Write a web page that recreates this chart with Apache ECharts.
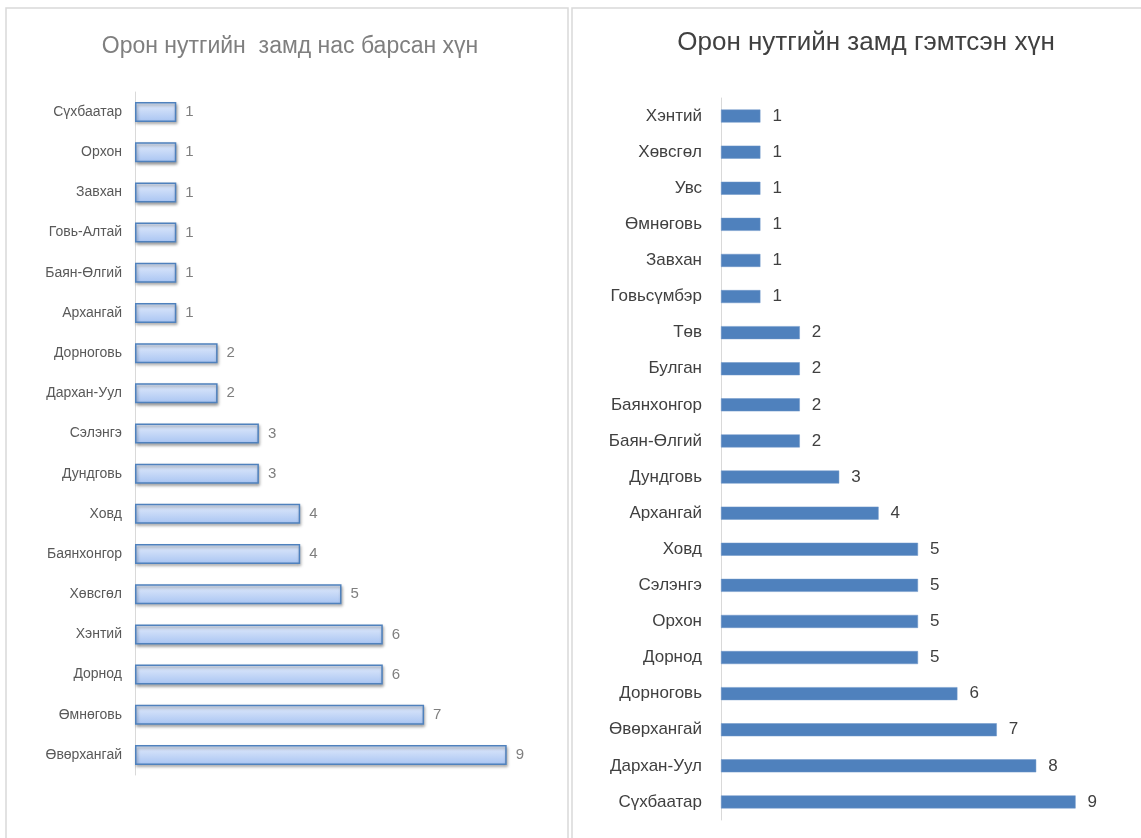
<!DOCTYPE html>
<html>
<head>
<meta charset="utf-8">
<script src="https://cdn.jsdelivr.net/npm/echarts@6/dist/echarts.min.js"></script>
<style>html,body{margin:0;padding:0;background:#fff;}#c{width:1141px;height:838px;}</style>
</head>
<body>
<div id="c"></div>
<script>
const leftTitle = 'Орон нутгийн  замд нас барсан хүн';
const rightTitle = 'Орон нутгийн замд гэмтсэн хүн';
const leftCategories = ['Сүхбаатар','Орхон','Завхан','Говь-Алтай','Баян-Өлгий','Архангай','Дорноговь','Дархан-Уул','Сэлэнгэ','Дундговь','Ховд','Баянхонгор','Хөвсгөл','Хэнтий','Дорнод','Өмнөговь','Өвөрхангай'];
const leftValues = [1,1,1,1,1,1,2,2,3,3,4,4,5,6,6,7,9];
const rightCategories = ['Хэнтий','Хөвсгөл','Увс','Өмнөговь','Завхан','Говьсүмбэр','Төв','Булган','Баянхонгор','Баян-Өлгий','Дундговь','Архангай','Ховд','Сэлэнгэ','Орхон','Дорнод','Дорноговь','Өвөрхангай','Дархан-Уул','Сүхбаатар'];
const rightValues = [1,1,1,1,1,1,2,2,2,2,3,4,5,5,5,5,6,7,8,9];

const FONT = "'Liberation Sans',Arial,sans-serif";
const chart = echarts.init(document.getElementById('c'));
chart.setOption({
  animation: false,
  graphic: [
    {type:'rect', shape:{x:6,y:8,width:562,height:840}, style:{fill:'#fff',stroke:'#d9d9d9',lineWidth:1.5}, z:-10},
    {type:'rect', shape:{x:572,y:8,width:580,height:840}, style:{fill:'#fff',stroke:'#d9d9d9',lineWidth:1.5}, z:-10}
  ],
  title: [
    {text:leftTitle, left:285, top:30, textAlign:'center', textStyle:{fontFamily:FONT, fontSize:23, fontWeight:'normal', color:'#7f7f7f'}},
    {text:rightTitle, left:861, top:25, textAlign:'center', textStyle:{fontFamily:FONT, fontSize:26, fontWeight:'normal', color:'#404040'}}
  ],
  grid: [
    {left:135, top:92, width:413, height:683},
    {left:721, top:98, width:394, height:722}
  ],
  xAxis: [
    {gridIndex:0, type:'value', min:0, max:10, show:false},
    {gridIndex:1, type:'value', min:0, max:10, show:false}
  ],
  yAxis: [
    {gridIndex:0, type:'category', data:leftCategories, inverse:true,
     axisLine:{show:true, lineStyle:{color:'#d9d9d9', width:1}}, axisTick:{show:false},
     axisLabel:{margin:13, fontFamily:FONT, fontSize:14, color:'#595959'}},
    {gridIndex:1, type:'category', data:rightCategories, inverse:true,
     axisLine:{show:true, lineStyle:{color:'#d9d9d9', width:1}}, axisTick:{show:false},
     axisLabel:{margin:19, fontFamily:FONT, fontSize:17, color:'#404040'}}
  ],
  series: [
    {type:'bar', xAxisIndex:0, yAxisIndex:0, data:leftValues, barWidth:20,
     itemStyle:{color:new echarts.graphic.LinearGradient(0,0,0,1,[{offset:0,color:'#e3ecfc'},{offset:1,color:'#a8c4f2'}]),
       borderColor:'#4f81bd', borderWidth:1.5, shadowColor:'rgba(0,0,0,0.35)', shadowBlur:3, shadowOffsetX:1, shadowOffsetY:2},
     label:{show:true, position:'right', distance:9, fontFamily:FONT, fontSize:15, color:'#7f7f7f'}},
    {type:'bar', xAxisIndex:1, yAxisIndex:1, data:rightValues, barWidth:13,
     itemStyle:{color:'#4f81bd', borderColor:'#6f96c8', borderWidth:0.5},
     label:{show:true, position:'right', distance:12, fontFamily:FONT, fontSize:17, color:'#404040'}}
  ]
});
</script>
</body>
</html>
